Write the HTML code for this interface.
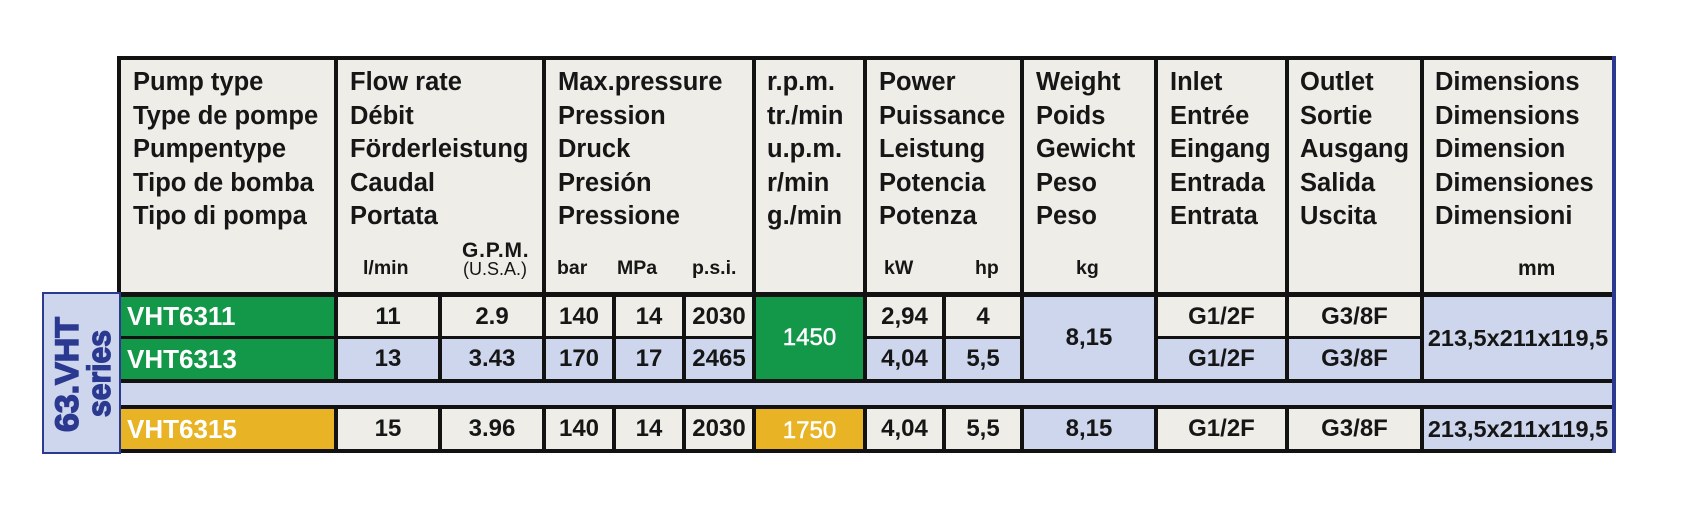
<!DOCTYPE html>
<html>
<head>
<meta charset="utf-8">
<style>
  html,body{margin:0;padding:0;}
  body{width:1690px;height:526px;background:#ffffff;position:relative;overflow:hidden;
       font-family:"Liberation Sans",Arial,sans-serif;color:#161616;}
  .a{position:absolute;box-sizing:border-box;}
  .h{position:absolute;top:60px;height:232px;background:#eeede8;box-sizing:border-box;
     padding-left:12px;padding-top:6px;font-weight:bold;font-size:25.5px;line-height:33.5px;white-space:nowrap;}
  .u{position:absolute;font-weight:bold;font-size:19.5px;line-height:19.5px;white-space:nowrap;}
  .d{position:absolute;display:flex;align-items:center;justify-content:center;
     font-size:24px;font-weight:bold;white-space:nowrap;box-sizing:border-box;}
  .L{background:#eeede8;}
  .B{background:#cdd6ec;}
  .G{background:#13984a;}
  .O{background:#e8b324;}
  .n{justify-content:flex-start;padding-left:6px;color:#fff;font-size:26px;font-weight:bold;}
  .w{color:#fff;font-weight:normal;-webkit-text-stroke:0.5px #fff;}
</style>
</head>
<body>

<!-- black frame / borders -->
<div class="a" style="left:117px;top:56px;width:1499px;height:397px;background:#121212;"></div>
<div class="a" style="left:1612px;top:56px;width:4px;height:397px;background:#2b3990;"></div>

<!-- header cells -->
<div class="h" style="left:121px;width:213px;">Pump type<br>Type de pompe<br>Pumpentype<br>Tipo de bomba<br>Tipo di pompa</div>
<div class="h" style="left:338px;width:204px;">Flow rate<br>Débit<br>Förderleistung<br>Caudal<br>Portata</div>
<div class="h" style="left:546px;width:206px;">Max.pressure<br>Pression<br>Druck<br>Presión<br>Pressione</div>
<div class="h" style="left:756px;width:107px;padding-left:11px;">r.p.m.<br>tr./min<br>u.p.m.<br>r/min<br>g./min</div>
<div class="h" style="left:867px;width:153px;">Power<br>Puissance<br>Leistung<br>Potencia<br>Potenza</div>
<div class="h" style="left:1024px;width:130px;">Weight<br>Poids<br>Gewicht<br>Peso<br>Peso</div>
<div class="h" style="left:1158px;width:127px;">Inlet<br>Entrée<br>Eingang<br>Entrada<br>Entrata</div>
<div class="h" style="left:1289px;width:131px;padding-left:11px;">Outlet<br>Sortie<br>Ausgang<br>Salida<br>Uscita</div>
<div class="h" style="left:1424px;width:188px;padding-left:11px;">Dimensions<br>Dimensions<br>Dimension<br>Dimensiones<br>Dimensioni</div>

<!-- units -->
<div class="u" style="left:363px;top:259px;">l/min</div>
<div class="u" style="left:462px;top:240px;font-size:21px;line-height:21px;letter-spacing:0.8px;">G.P.M.</div>
<div class="u" style="left:463px;top:260px;font-weight:normal;font-size:18px;line-height:18px;">(U.S.A.)</div>
<div class="u" style="left:557px;top:259px;">bar</div>
<div class="u" style="left:617px;top:259px;">MPa</div>
<div class="u" style="left:692px;top:259px;">p.s.i.</div>
<div class="u" style="left:884px;top:259px;">kW</div>
<div class="u" style="left:975px;top:259px;">hp</div>
<div class="u" style="left:1076px;top:259px;">kg</div>
<div class="u" style="left:1518px;font-size:21px;line-height:21px;top:258px;">mm</div>

<!-- row 1 -->
<div class="d G n" style="left:121px;top:297px;width:213px;height:39px;">VHT6311</div>
<div class="d L" style="left:338px;top:297px;width:100px;height:39px;">11</div>
<div class="d L" style="left:442px;top:297px;width:100px;height:39px;">2.9</div>
<div class="d L" style="left:546px;top:297px;width:66px;height:39px;">140</div>
<div class="d L" style="left:616px;top:297px;width:66px;height:39px;">14</div>
<div class="d L" style="left:686px;top:297px;width:66px;height:39px;">2030</div>
<div class="d G w" style="left:756px;top:297px;width:107px;height:82px;">1450</div>
<div class="d L" style="left:867px;top:297px;width:75px;height:39px;">2,94</div>
<div class="d L" style="left:946px;top:297px;width:74px;height:39px;">4</div>
<div class="d B" style="left:1024px;top:297px;width:130px;height:82px;">8,15</div>
<div class="d L" style="left:1158px;top:297px;width:127px;height:39px;">G1/2F</div>
<div class="d L" style="left:1289px;top:297px;width:131px;height:39px;">G3/8F</div>
<div class="d B" style="left:1424px;top:297px;width:188px;height:82px;font-size:23.5px;">213,5x211x119,5</div>

<!-- row 2 -->
<div class="d G n" style="left:121px;top:339px;width:213px;height:40px;">VHT6313</div>
<div class="d B" style="left:338px;top:339px;width:100px;height:40px;">13</div>
<div class="d B" style="left:442px;top:339px;width:100px;height:40px;">3.43</div>
<div class="d B" style="left:546px;top:339px;width:66px;height:40px;">170</div>
<div class="d B" style="left:616px;top:339px;width:66px;height:40px;">17</div>
<div class="d B" style="left:686px;top:339px;width:66px;height:40px;">2465</div>
<div class="d B" style="left:867px;top:339px;width:75px;height:40px;">4,04</div>
<div class="d B" style="left:946px;top:339px;width:74px;height:40px;">5,5</div>
<div class="d B" style="left:1158px;top:339px;width:127px;height:40px;">G1/2F</div>
<div class="d B" style="left:1289px;top:339px;width:131px;height:40px;">G3/8F</div>

<!-- band -->
<div class="a B" style="left:121px;top:383px;width:1491px;height:22px;"></div>

<!-- row 3 -->
<div class="d O n" style="left:121px;top:409px;width:213px;height:40px;">VHT6315</div>
<div class="d L" style="left:338px;top:409px;width:100px;height:40px;">15</div>
<div class="d L" style="left:442px;top:409px;width:100px;height:40px;">3.96</div>
<div class="d L" style="left:546px;top:409px;width:66px;height:40px;">140</div>
<div class="d L" style="left:616px;top:409px;width:66px;height:40px;">14</div>
<div class="d L" style="left:686px;top:409px;width:66px;height:40px;">2030</div>
<div class="d O w" style="left:756px;top:409px;width:107px;height:40px;padding-top:4px;">1750</div>
<div class="d L" style="left:867px;top:409px;width:75px;height:40px;">4,04</div>
<div class="d L" style="left:946px;top:409px;width:74px;height:40px;">5,5</div>
<div class="d B" style="left:1024px;top:409px;width:130px;height:40px;">8,15</div>
<div class="d L" style="left:1158px;top:409px;width:127px;height:40px;">G1/2F</div>
<div class="d L" style="left:1289px;top:409px;width:131px;height:40px;">G3/8F</div>
<div class="d B" style="left:1424px;top:409px;width:188px;height:40px;font-size:23.5px;">213,5x211x119,5</div>

<!-- sidebar -->
<div class="a" style="left:42px;top:292px;width:79px;height:162px;background:#cdd6ec;border:2.5px solid #2b3990;"></div>
<svg class="a" style="left:42px;top:292px;" width="79" height="162" viewBox="0 0 79 162">
  <text transform="translate(36,82.5) rotate(-90)" text-anchor="middle"
        font-family="Liberation Sans, Arial, sans-serif" font-weight="bold" font-size="32"
        fill="#2b3990" stroke="#2b3990" stroke-width="1.4" textLength="115" lengthAdjust="spacingAndGlyphs">63.VHT</text>
  <text transform="translate(68,81.5) rotate(-90)" text-anchor="middle"
        font-family="Liberation Sans, Arial, sans-serif" font-weight="bold" font-size="32"
        fill="#2b3990" stroke="#2b3990" stroke-width="1.4" textLength="87" lengthAdjust="spacingAndGlyphs">series</text>
</svg>

</body>
</html>
